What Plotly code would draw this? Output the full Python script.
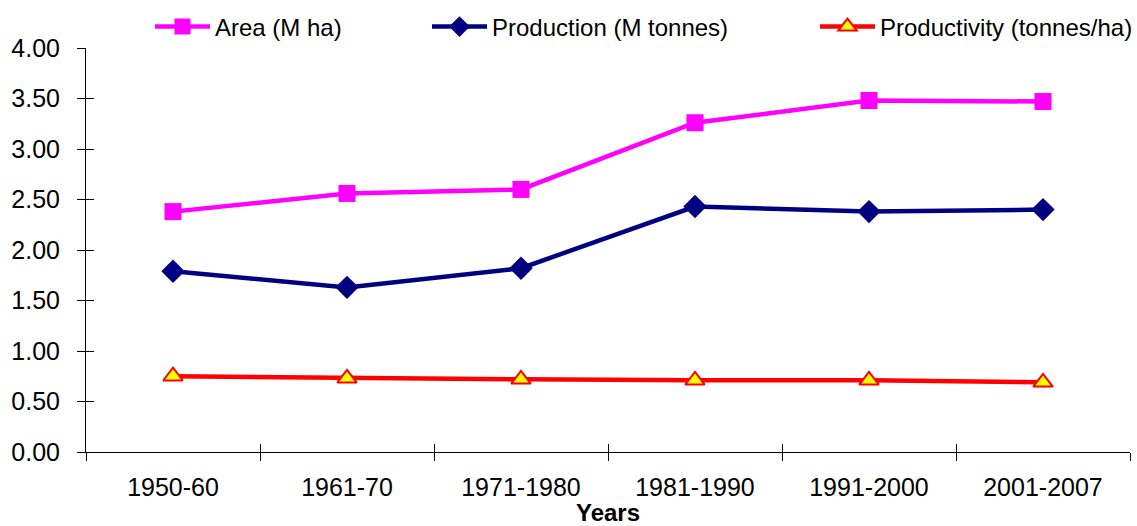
import plotly.graph_objects as go

categories = ["1950-60", "1961-70", "1971-1980", "1981-1990", "1991-2000", "2001-2007"]
area = [2.38, 2.56, 2.60, 3.26, 3.48, 3.47]
production = [1.79, 1.63, 1.82, 2.43, 2.38, 2.40]
productivity = [0.75, 0.73, 0.72, 0.71, 0.71, 0.69]
y_ticks = [0, 0.5, 1.0, 1.5, 2.0, 2.5, 3.0, 3.5, 4.0]
y_tick_text = ["%.2f" % v for v in y_ticks]

FONT = "Liberation Sans, Arial, sans-serif"
W, H = 1137, 526

fig = go.Figure()
fig.add_trace(go.Scatter(
    x=categories, y=area, name="Area (M ha)", mode="lines+markers",
    line=dict(color="#FF00FF", width=4.5),
    marker=dict(symbol="square", size=17, color="#FF00FF"),
    legend="legend"))
fig.add_trace(go.Scatter(
    x=categories, y=production, name="Production (M tonnes)", mode="lines+markers",
    line=dict(color="#000080", width=4.5),
    marker=dict(symbol="diamond", size=18, color="#000080"),
    legend="legend2"))
fig.add_trace(go.Scatter(
    x=categories, y=productivity, name="Productivity (tonnes/ha)", mode="lines+markers",
    line=dict(color="#FF0000", width=4.5),
    marker=dict(symbol="triangle-up", size=17, color="#FFFF00",
                line=dict(color="#FF0000", width=2)),
    legend="legend3"))
# invisible trace to carry the inner-tick overlay axes
fig.add_trace(go.Scatter(x=categories, y=area, xaxis="x2", yaxis="y2",
                         mode="lines", line=dict(width=0), opacity=0,
                         showlegend=False, hoverinfo="skip"))

axis_common = dict(showgrid=False, zeroline=False, showline=True,
                   linecolor="#000000", linewidth=1, tickcolor="#000000",
                   automargin=False)

legend_common = dict(xref="container", yref="container", xanchor="left",
                     yanchor="middle", y=1 - 27 / H, itemwidth=55,
                     font=dict(size=24, family=FONT), bgcolor="rgba(0,0,0,0)")

fig.update_layout(
    width=W, height=H,
    margin=dict(l=86, r=7, t=48, b=74, autoexpand=False),
    paper_bgcolor="white", plot_bgcolor="white",
    font=dict(family=FONT, color="#000000", size=22),
    xaxis=dict(type="category", categoryarray=categories, range=[-0.5, 5.5],
               tickson="boundaries", ticks="outside", ticklen=8,
               ticklabelstandoff=13,
               tickfont=dict(size=25, family=FONT),
               title=dict(text="<b>Years</b>", font=dict(size=24, family=FONT), standoff=2),
               **axis_common),
    yaxis=dict(range=[0, 4], tickvals=y_ticks, ticktext=y_tick_text,
               ticks="outside", ticklen=8, ticklabelstandoff=12,
               tickfont=dict(size=25, family=FONT),
               **axis_common),
    xaxis2=dict(type="category", categoryarray=categories, range=[-0.5, 5.5],
                overlaying="x", tickson="boundaries", ticks="inside", ticklen=8,
                showticklabels=False, showgrid=False, zeroline=False,
                tickcolor="#000000", side="bottom"),
    yaxis2=dict(range=[0, 4], tickvals=y_ticks, overlaying="y", ticks="inside",
                ticklen=8, showticklabels=False, showgrid=False, zeroline=False,
                tickcolor="#000000", side="left"),
    legend=dict(x=150 / W, **legend_common),
    legend2=dict(x=427 / W, **legend_common),
    legend3=dict(x=815 / W, **legend_common),
    showlegend=True,
)

fig.write_html("out.html", config={"displayModeBar": False},
               post_script="document.body.style.margin='0';")
